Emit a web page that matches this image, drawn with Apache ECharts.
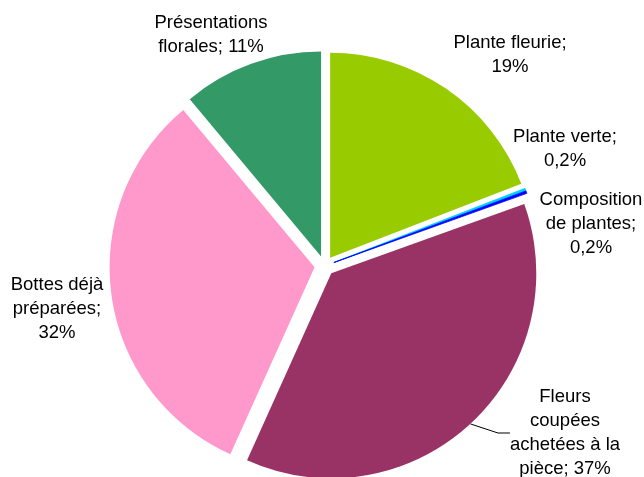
<!DOCTYPE html>
<html>
<head>
<meta charset="utf-8">
<script src="https://cdn.jsdelivr.net/npm/echarts@6/dist/echarts.min.js"></script>
<style>
html,body{margin:0;padding:0;background:#fff;}
#chart{width:644px;height:477px;}
</style>
</head>
<body>
<div id="chart"></div>
<script>
// Data
var categories = ['Plante fleurie', 'Plante verte', 'Composition\nde plantes', 'Fleurs\ncoupées\nachetées à la\npièce', 'Bottes déjà\npréparées', 'Présentations\nflorales'];
var values = [19, 0.2, 0.2, 37, 32, 11];
var valueLabels = ['19%', '0,2%', '0,2%', '37%', '32%', '11%'];

var colors = ['#99CC00', '#00CCFF', '#0000FF', '#993366', '#FF99CC', '#339966'];
var breakAfterSemicolon = [true, true, true, false, true, false];
var labelPos = [[510, 55], [565, 149], [591, 224], [565, 433], [57, 309], [211, 35]];

var cx = 324.5, cy = 266, R = 205, explode = 10;
var total = values.reduce(function (a, b) { return a + b; }, 0);

var chart = echarts.init(document.getElementById('chart'));
var series = [];
var cum = 0;
values.forEach(function (v, i) {
  var mid = (cum + v / 2) / total * 2 * Math.PI;
  cum += v;
  var data = categories.map(function (c, j) {
    var own = j === i;
    var thin = own && (j === 1 || j === 2);
    return {
      name: c,
      value: values[j],
      itemStyle: {
        color: own ? colors[j] : 'rgba(0,0,0,0)',
        borderColor: thin ? colors[j] : 'rgba(0,0,0,0)',
        borderWidth: thin ? 0.8 : 0
      },
      label: { show: own },
      labelLine: { show: own && j === 3 }
    };
  });
  series.push({
    type: 'pie',
    silent: true,
    center: [cx + explode * Math.sin(mid), cy - explode * Math.cos(mid)],
    radius: [0, R],
    startAngle: 90,
    clockwise: true,
    avoidLabelOverlap: false,
    emphasis: { disabled: true },
    data: data,
    label: {
      position: 'outside',
      fontFamily: 'Liberation Sans, Arial, sans-serif',
      fontSize: 18.5,
      lineHeight: 24,
      color: '#000',
      align: 'center',
      formatter: function (p) {
        var k = p.dataIndex;
        return p.name + ';' + (breakAfterSemicolon[k] ? '\n' : ' ') + valueLabels[k];
      }
    },
    labelLine: {
      length: 10,
      length2: 12,
      lineStyle: { color: '#000', width: 1 }
    },
    labelLayout: function (params) {
      var k = params.dataIndex;
      return {
        x: labelPos[k][0],
        y: labelPos[k][1],
        align: 'center',
        verticalAlign: 'middle'
      };
    }
  });
});

chart.setOption({ animation: false, series: series });
</script>
</body>
</html>
